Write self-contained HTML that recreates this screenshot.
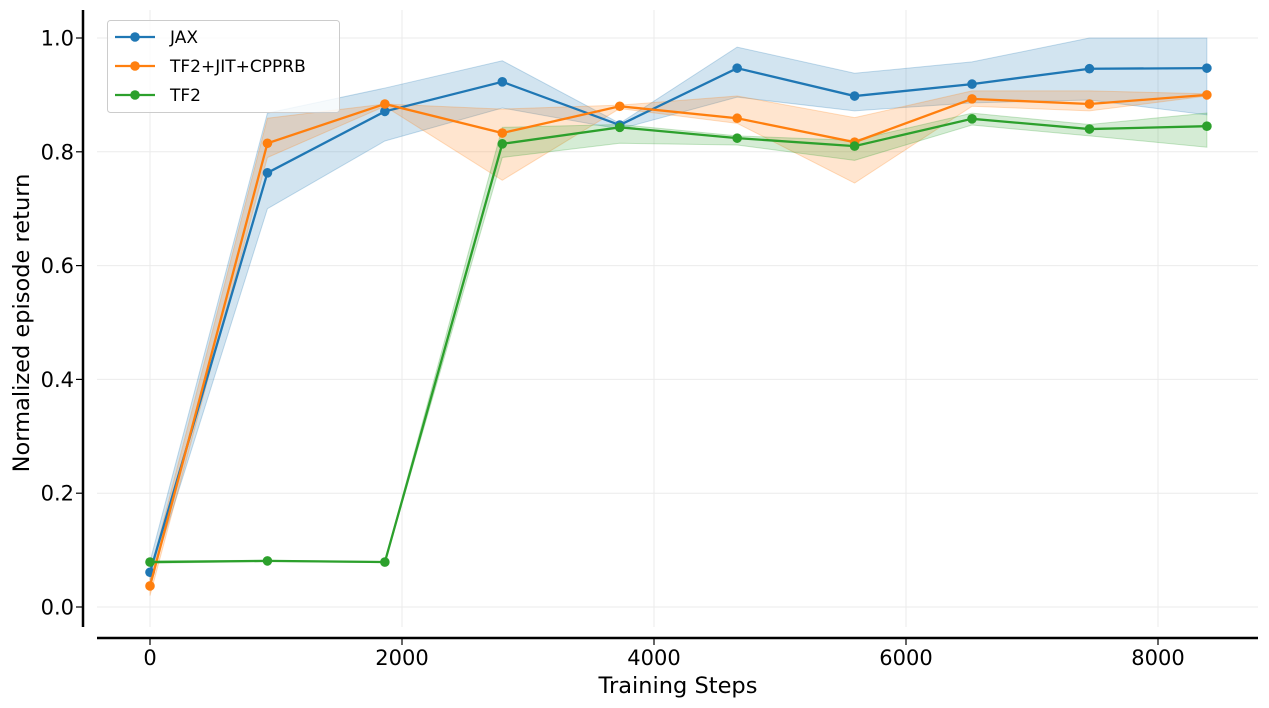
<!DOCTYPE html>
<html><head><meta charset="utf-8"><style>
html,body{margin:0;padding:0;background:#fff;}
svg{display:block;font-family:"DejaVu Sans","Liberation Sans",sans-serif;}
</style></head><body>
<svg id="chart" width="1269" height="708" viewBox="0 0 1269 708" xmlns="http://www.w3.org/2000/svg">
<g id="grid"></g>
<g id="bands"></g>
<g id="lines"></g>
<g id="axes"></g>
<text x="678" y="693" font-size="22.5" text-anchor="middle" fill="#000">Training Steps</text>
<text transform="translate(29,323) rotate(-90)" font-size="22.5" text-anchor="middle" fill="#000">Normalized episode return</text>
<g id="legend"></g>
</svg>
<script>
const steps = [0, 932, 1864, 2796, 3728, 4660, 5592, 6524, 7456, 8388];
const jaxMean = [0.061, 0.763, 0.871, 0.923, 0.847, 0.947, 0.898, 0.919, 0.946, 0.947];
const jaxHi = [0.08, 0.868, 0.912, 0.96, 0.85, 0.984, 0.938, 0.958, 1.0, 1.0];
const jaxLo = [0.045, 0.70, 0.819, 0.877, 0.84, 0.896, 0.872, 0.886, 0.891, 0.865];
const orMean = [0.037, 0.815, 0.884, 0.833, 0.880, 0.859, 0.817, 0.893, 0.884, 0.900];
const orHi = [0.06, 0.859, 0.884, 0.875, 0.882, 0.898, 0.86, 0.907, 0.907, 0.902];
const orLo = [0.02, 0.79, 0.88, 0.75, 0.876, 0.85, 0.745, 0.88, 0.872, 0.898];
const tfMean = [0.079, 0.081, 0.079, 0.814, 0.843, 0.824, 0.81, 0.858, 0.84, 0.845];
const tfHi = [0.081, 0.082, 0.080, 0.843, 0.848, 0.828, 0.82, 0.868, 0.848, 0.868];
const tfLo = [0.077, 0.080, 0.078, 0.79, 0.815, 0.812, 0.785, 0.847, 0.828, 0.808];
const xTicks = [0, 2000, 4000, 6000, 8000];
const yTicks = [0, 0.2, 0.4, 0.6, 0.8, 1.0];
const seriesNames = ["JAX", "TF2+JIT+CPPRB", "TF2"];

const NS = "http://www.w3.org/2000/svg";
const X = v => 150 + v * 0.126;
const Y = v => 607 - v * 569;
function mk(tag, attrs, parent){const e=document.createElementNS(NS,tag);for(const k in attrs)e.setAttribute(k,attrs[k]);parent.appendChild(e);return e;}
const grid=document.getElementById('grid'), bands=document.getElementById('bands'), lines=document.getElementById('lines'), axes=document.getElementById('axes'), legend=document.getElementById('legend');

xTicks.forEach(t=>{
  const l=mk('line',{x1:X(t),x2:X(t),y1:10,y2:627,stroke:'#ebebeb','stroke-width':1},grid);
  
  
  const tk=mk('line',{x1:X(t),x2:X(t),y1:638,y2:645,stroke:'#000','stroke-width':1.2},axes);
  
  
  const tx=mk('text',{x:X(t),y:665,'font-size':21,'text-anchor':'middle',fill:'#000'},axes);
  tx.textContent=t;
  
  
});
yTicks.forEach(t=>{
  const l=mk('line',{x1:97,x2:1258,y1:Y(t),y2:Y(t),stroke:'#ebebeb','stroke-width':1},grid);
  
  
  const tk=mk('line',{x1:76,x2:83,y1:Y(t),y2:Y(t),stroke:'#000','stroke-width':1.2},axes);
  
  
  const tx=mk('text',{x:74,y:Y(t)+7.5,'font-size':21,'text-anchor':'end',fill:'#000'},axes);
  tx.textContent=t.toFixed(1);
  
  
});
const ys=mk('line',{x1:83,x2:83,y1:10,y2:627,stroke:'#000','stroke-width':2.5},axes);


const xs=mk('line',{x1:97,x2:1258,y1:638,y2:638,stroke:'#000','stroke-width':2.5},axes);



const series=[
  {mean:jaxMean,hi:jaxHi,lo:jaxLo,color:'#1f77b4',key:'jax'},
  {mean:orMean,hi:orHi,lo:orLo,color:'#ff7f0e',key:'tf2-jit-cpprb'},
  {mean:tfMean,hi:tfHi,lo:tfLo,color:'#2ca02c',key:'tf2'}
];
series.forEach(s=>{
  let d='M'+steps.map((x,i)=>X(x)+','+Y(s.hi[i])).join('L');
  for(let i=steps.length-1;i>=0;i--) d+='L'+X(steps[i])+','+Y(s.lo[i]);
  const b=mk('path',{d:d+'Z',fill:s.color,'fill-opacity':0.2,stroke:s.color,'stroke-opacity':0.25},bands);
  
  
});
series.forEach(s=>{
  const p=mk('polyline',{points:steps.map((x,i)=>X(x)+','+Y(s.mean[i])).join(' '),fill:'none',stroke:s.color,'stroke-width':2.3},lines);
  
  
  steps.forEach((x,i)=>{
    const c=mk('circle',{cx:X(x),cy:Y(s.mean[i]),r:4.8,fill:s.color},lines);
    
    
  });
});
const box=mk('rect',{x:107.5,y:20.5,width:232,height:92,rx:3,fill:'#fff','fill-opacity':0.8,stroke:'#ccc'},legend);


seriesNames.forEach((n,i)=>{
  const y=37+i*29, c=series[i].color;
  const g=mk('g',{},legend);
  
  
  mk('line',{x1:115,x2:155,y1:y,y2:y,stroke:c,'stroke-width':2.3},g);
  mk('circle',{cx:135,cy:y,r:4.8,fill:c},g);
  const t=mk('text',{x:170,y:y+6,'font-size':17,fill:'#000'},g);
  t.textContent=n;
});
</script>
</body></html>
